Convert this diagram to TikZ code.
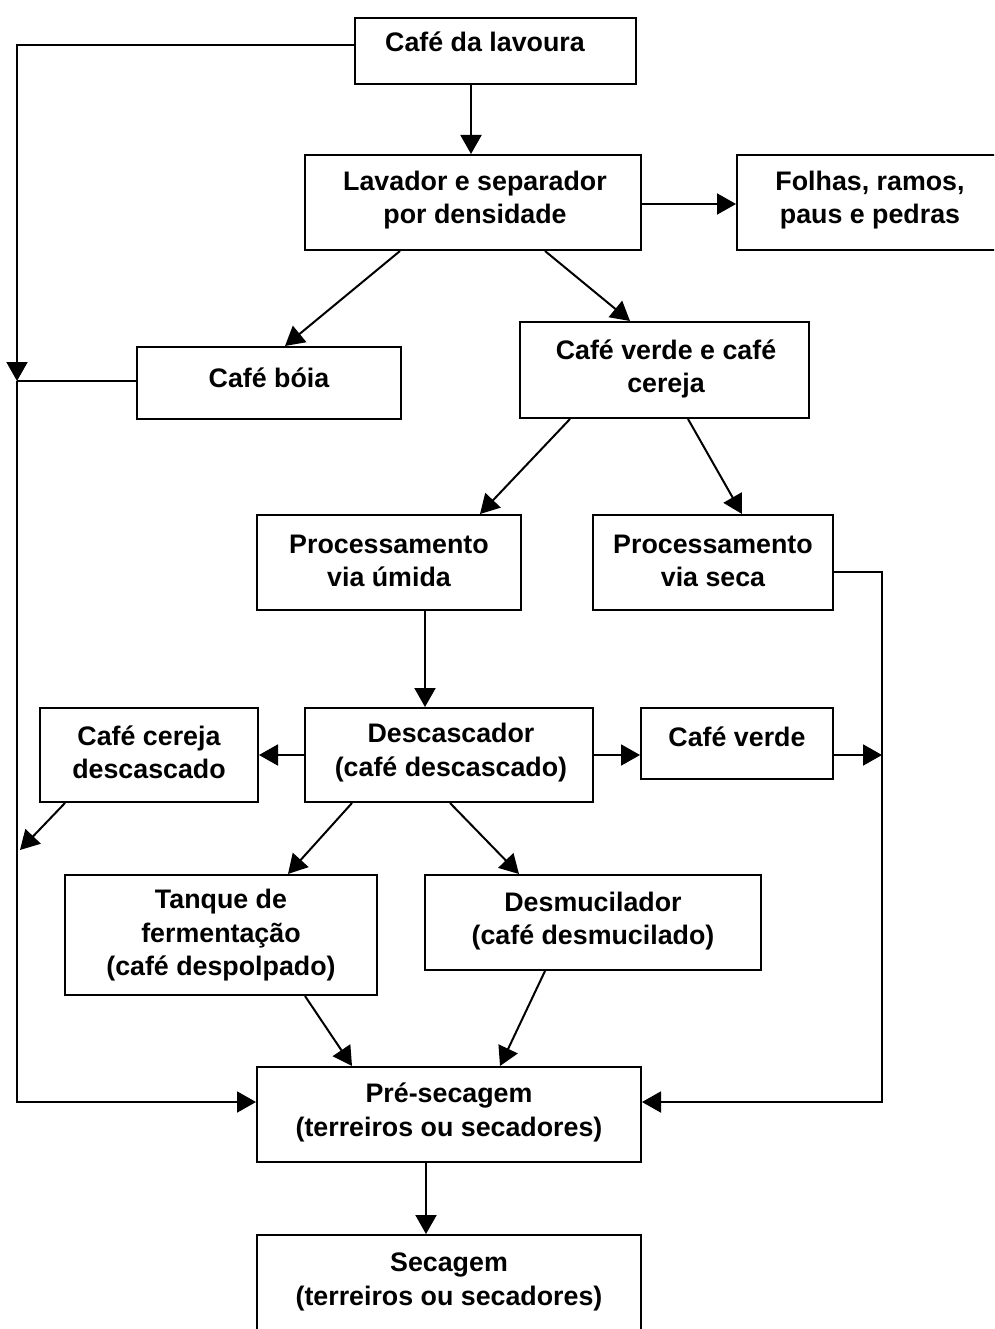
\documentclass[tikz,border=0pt]{standalone}
\usepackage{fontspec}
\setmainfont{Liberation Sans}
\usetikzlibrary{arrows.meta}
\begin{document}
\begin{tikzpicture}[x=1pt,y=-1pt,
  box/.style={draw,line width=2pt,rectangle,inner sep=0pt},
  txt/.style={align=center,inner sep=0pt,font=\bfseries\fontsize{26.8}{33.5}\selectfont},
  conn/.style={line width=2pt},
  arr/.style={line width=2pt,-{Triangle[length=19pt,width=21pt]}}]
\useasboundingbox (0,0) rectangle (994,1329);
\clip (0,0) rectangle (994,1329);
% boxes
\node[box,minimum width=281pt,minimum height=66pt] (lav0) at (495.5,51) {};
\node[box,minimum width=336pt,minimum height=95pt] (lav) at (473,202.5) {};
\node[box,minimum width=266pt,minimum height=95pt] (folhas) at (870,202.5) {};
\node[box,minimum width=264pt,minimum height=72pt] (boia) at (269,383) {};
\node[box,minimum width=289pt,minimum height=96pt] (verde) at (664.5,370) {};
\node[box,minimum width=264pt,minimum height=95pt] (umida) at (389,562.5) {};
\node[box,minimum width=240pt,minimum height=95pt] (seca) at (713,562.5) {};
\node[box,minimum width=288pt,minimum height=94pt] (desc) at (449,755) {};
\node[box,minimum width=218pt,minimum height=94pt] (cerdesc) at (149,755) {};
\node[box,minimum width=192pt,minimum height=71pt] (cv) at (737,743.5) {};
\node[box,minimum width=312pt,minimum height=120pt] (tanque) at (221,935) {};
\node[box,minimum width=336pt,minimum height=95pt] (desmu) at (593,922.5) {};
\node[box,minimum width=384pt,minimum height=95pt] (pre) at (449,1114.5) {};
\node[box,minimum width=384pt,minimum height=100pt] (sec) at (449,1285) {};
% texts
\node[txt] (t-lav0) at (485,42) {Café da lavoura};
\node[txt] (t-lav) at (475,200) {Lavador e separador\\por densidade};
\node[txt] (t-folhas) at (870,200) {Folhas, ramos,\\paus e pedras};
\node[txt] (t-boia) at (269,378) {Café bóia};
\node[txt] (t-verde) at (666,369) {Café verde e café\\cereja};
\node[txt] (t-umida) at (389,561) {Processamento\\via úmida};
\node[txt] (t-seca) at (713,561) {Processamento\\via seca};
\node[txt] (t-desc) at (451,752.5) {Descascador\\(café descascado)};
\node[txt] (t-cerdesc) at (149,752.5) {Café cereja\\descascado};
\node[txt] (t-cv) at (737,737) {Café verde};
\node[txt] (t-tanque) at (221,935.5) {Tanque de\\fermentação\\(café despolpado)};
\node[txt] (t-desmu) at (593,921) {Desmucilador\\(café desmucilado)};
\node[txt] (t-pre) at (449,1112.5) {Pré-secagem\\(terreiros ou secadores)};
\node[txt] (t-sec) at (449,1282) {Secagem\\(terreiros ou secadores)};
% junction coordinates
\coordinate (tl) at (17,45);
\coordinate (jb) at (17,381);
\coordinate (jc) at (20,850);
\coordinate (bl) at (17,1102);
\coordinate (tr) at (882,572);
\coordinate (jv) at (882,755);
\coordinate (br) at (882,1102);
% connectors
\draw[arr] (lav0.west |- tl) -- (tl) -- (jb);
\draw[conn] (boia.west |- jb) -- (jb);
\draw[arr] (jb) -- (bl) -- (pre.west |- bl);
\draw[arr] ([xshift=-2pt]lav.north |- lav0.south) -- ([xshift=-2pt]lav.north);
\draw[arr] (lav.east |- 0,204) -- (folhas.west |- 0,204);
\draw[arr] ([xshift=-73pt]lav.south) -- ([xshift=16pt]boia.north);
\draw[arr] ([xshift=72pt]lav.south) -- ([xshift=-34.5pt]verde.north);
\draw[arr] ([xshift=-94.5pt]verde.south) -- ([xshift=91pt]umida.north);
\draw[arr] ([xshift=23.5pt]verde.south) -- ([xshift=29pt]seca.north);
\draw[arr] ([xshift=36pt]umida.south) -- ([xshift=-24pt]desc.north);
\draw[arr] (seca.east |- tr) -- (tr) -- (br) -- (pre.east |- br);
\draw[arr] (desc.west) -- (cerdesc.east);
\draw[arr] (desc.east) -- (cv.west |- desc.east);
\draw[arr] (cv.east |- jv) -- (jv);
\draw[arr] ([xshift=-84pt]cerdesc.south) -- (jc);
\draw[arr] ([xshift=-97pt]desc.south) -- ([xshift=67pt]tanque.north);
\draw[arr] ([xshift=1pt]desc.south) -- ([xshift=-74pt]desmu.north);
\draw[arr] ([xshift=84pt]tanque.south) -- ([xshift=-97pt]pre.north);
\draw[arr] ([xshift=-48pt]desmu.south) -- ([xshift=51pt]pre.north);
\draw[arr] ([xshift=-23pt]pre.south) -- ([xshift=-23pt]sec.north);
\end{tikzpicture}
\end{document}
